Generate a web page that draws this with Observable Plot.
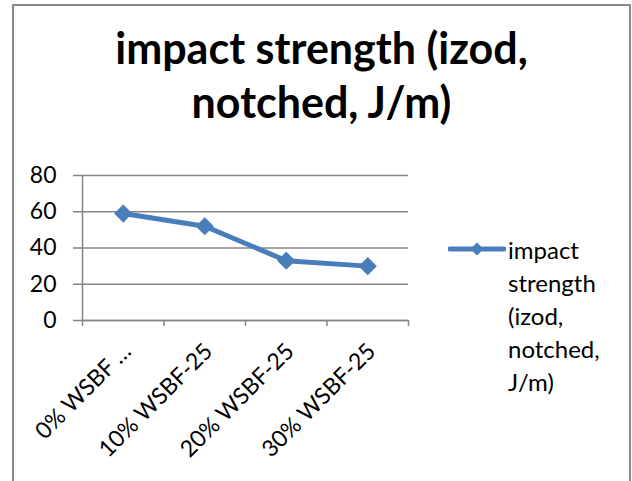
<!DOCTYPE html>
<html><head><meta charset="utf-8">
<script src="https://cdn.jsdelivr.net/npm/d3@7"></script>
<script src="https://cdn.jsdelivr.net/npm/@observablehq/plot@0.6"></script>
<style>
body{margin:0;background:#fff;}
#wrap{position:relative;width:632px;height:481px;overflow:hidden;font-family:Lato,"Open Sans",sans-serif;color:#000;background:#fff;}
#frame{position:absolute;left:12px;top:4px;width:615px;height:540px;border:2px solid #8a8a8a;}
#title{position:absolute;left:14px;width:615px;top:21px;text-align:center;font-weight:bold;font-size:43px;line-height:54px;white-space:nowrap;}
#chart{position:absolute;left:0;top:150px;}
#legend{position:absolute;left:448px;top:228px;}
#legend svg{position:absolute;left:0;top:13px;}
#legend .txt{position:absolute;left:60px;top:5px;width:130px;font-size:24px;line-height:33px;}
</style></head>
<body>
<div id="wrap">
  <div id="frame"></div>
  <div id="title"></div>
  <div id="chart"></div>
  <div id="legend"></div>
</div>
<script>
const categories = ["0% WSBF …", "10% WSBF-25", "20% WSBF-25", "30% WSBF-25"];
const values = [59, 52, 33, 30];
const yTicks = [0, 20, 40, 60, 80];
const seriesName = "impact strength (izod, notched, J/m)";
const titleLines = ["impact strength (izod,", "notched, J/m)"];
const legendLines = ["impact", "strength", "(izod,", "notched,", "J/m)"];

const lineColor = "#4A7EBB";
const axisColor = "#868686";

const data = categories.map((c, i) => ({category: c, pos: i + 0.5, value: values[i]}));

document.getElementById("title").innerHTML = titleLines.join("<br>");

const plot = Plot.plot({
  width: 420,
  height: 331,
  marginLeft: 82,
  marginRight: 12,
  marginTop: 25,
  marginBottom: 161,
  style: {fontFamily: "Lato, 'Open Sans', sans-serif", fontSize: "23px", color: "#000", background: "transparent"},
  x: {domain: [0, categories.length], axis: null},
  y: {domain: [0, 80], axis: null},
  marks: [
    Plot.gridY(yTicks, {stroke: axisColor, strokeOpacity: 1, strokeWidth: 1.5}),
    Plot.axisY(yTicks, {tickSize: 9, tickPadding: 17, stroke: axisColor, strokeWidth: 1.5, fill: "#000", fontSize: 23, label: null}),
    Plot.ruleX([0], {stroke: axisColor, strokeWidth: 1.5}),
    Plot.ruleY([0], {stroke: axisColor, strokeWidth: 1.5}),
    Plot.axisX(d3.range(0, categories.length + 1), {tickSize: 6, stroke: axisColor, strokeWidth: 1.5, tickFormat: () => "", label: null}),
    Plot.axisX(data.map(d => d.pos), {tickSize: 0, tickPadding: 27, dx: 4, tickRotate: -45, tickFormat: v => categories[Math.floor(v)], fill: "#000", fontSize: 23, label: null}),
    Plot.lineY(data, {x: "pos", y: "value", stroke: lineColor, strokeWidth: 5, strokeLinejoin: "round", strokeLinecap: "round"}),
    Plot.dot(data, {x: "pos", y: "value", symbol: "diamond2", r: 8.2, fill: lineColor, stroke: null})
  ]
});
document.getElementById("chart").appendChild(plot);

// legend
const leg = document.getElementById("legend");
const sw = d3.create("svg").attr("width", 58).attr("height", 20);
sw.append("line").attr("x1", 2).attr("x2", 56).attr("y1", 8).attr("y2", 8)
  .attr("stroke", lineColor).attr("stroke-width", 5).attr("stroke-linecap", "round");
sw.append("path").attr("d", d3.symbol(d3.symbolDiamond2, 110)()).attr("transform", "translate(29,8)").attr("fill", lineColor);
leg.appendChild(sw.node());
const txt = document.createElement("div");
txt.className = "txt";
txt.title = seriesName;
txt.innerHTML = legendLines.join("<br>");
leg.appendChild(txt);
</script>
</body></html>
